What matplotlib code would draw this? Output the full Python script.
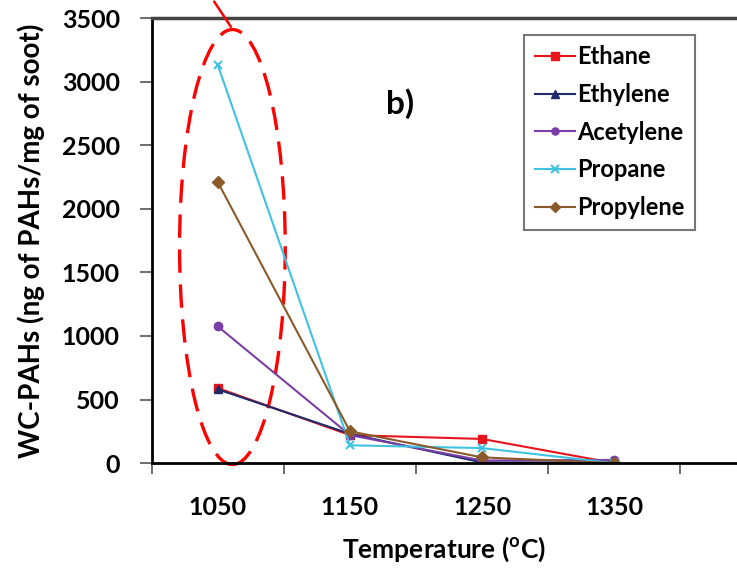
import matplotlib.pyplot as plt
import numpy as np
from matplotlib.patches import Ellipse

temps = ["1050", "1150", "1250", "1350"]
ethane = [590, 220, 190, 0]
ethylene = [580, 230, 5, 5]
acetylene = [1075, 220, 20, 25]
propane = [3130, 140, 118, 0]
propylene = [2210, 250, 45, 0]

series = [
    ("Ethane", ethane, "#e8141c", "s"),
    ("Ethylene", ethylene, "#1f2a6b", "^"),
    ("Acetylene", acetylene, "#7a3fa6", "o"),
    ("Propane", propane, "#3fc3e0", "x"),
    ("Propylene", propylene, "#8b5a2b", "D"),
]

plt.rcParams["font.family"] = ["Lato", "DejaVu Sans"]
plt.rcParams["font.weight"] = "bold"
plt.rcParams["axes.labelweight"] = "bold"

fig = plt.figure(figsize=(7.37, 5.71), dpi=100)
ax = fig.add_axes([0.206, 0.189, 0.794, 0.779])

x = np.arange(len(temps))
for name, vals, col, mk in series:
    ax.plot(x, vals, color=col, marker=mk, markersize=6, linewidth=1.5,
            label=name, markeredgewidth=1.5 if mk == "x" else 1)

ax.set_xlim(-0.5, 3.93)
ax.set_ylim(0, 3500)
ax.set_yticks(np.arange(0, 3501, 500))
ax.tick_params(axis="y", labelsize=18, length=9, width=1.2, color="#555555",
               direction="out", pad=14)

ax.set_xticks(np.arange(-0.5, 4, 1))
ax.set_xticklabels([])
ax.set_xticks(x, minor=True)
ax.set_xticklabels(temps, minor=True)
ax.tick_params(axis="x", which="major", length=8, width=1.2, color="#555555",
               direction="out")
ax.tick_params(axis="x", which="minor", length=0, labelsize=18, pad=24)

for s in ["left", "bottom"]:
    ax.spines[s].set_linewidth(2)
ax.spines["top"].set_linewidth(2.5)
ax.spines["top"].set_color("#444444")
ax.spines["right"].set_visible(False)

ax.set_xlabel("Temperature ($^\\mathregular{o}$C)", fontsize=19, labelpad=11)
ax.set_ylabel("WC-PAHs (ng of PAHs/mg of soot)", fontsize=20, labelpad=12)

ax.text(1.27, 2750, "b)", fontsize=24, fontweight="bold")

leg = ax.legend(loc="upper left", bbox_to_anchor=(0.636, 0.963), fontsize=17,
                frameon=True, fancybox=False, edgecolor="#555555",
                handlelength=1.7, handletextpad=0.1, borderpad=0.45,
                labelspacing=0.62, markerscale=0.85, borderaxespad=0)
leg.get_frame().set_linewidth(1.5)

ell = Ellipse((0.11, 1700), 0.8, 3423, fill=False, edgecolor="red",
              linestyle=(0, (7, 3.5)), linewidth=2.4, clip_on=False)
ax.add_patch(ell)
ax.annotate("", xy=(0.11, 3415), xytext=(-0.04, 3650),
            arrowprops=dict(arrowstyle="-", color="red", lw=1.8),
            annotation_clip=False)

fig.savefig("out.png", dpi=100)
